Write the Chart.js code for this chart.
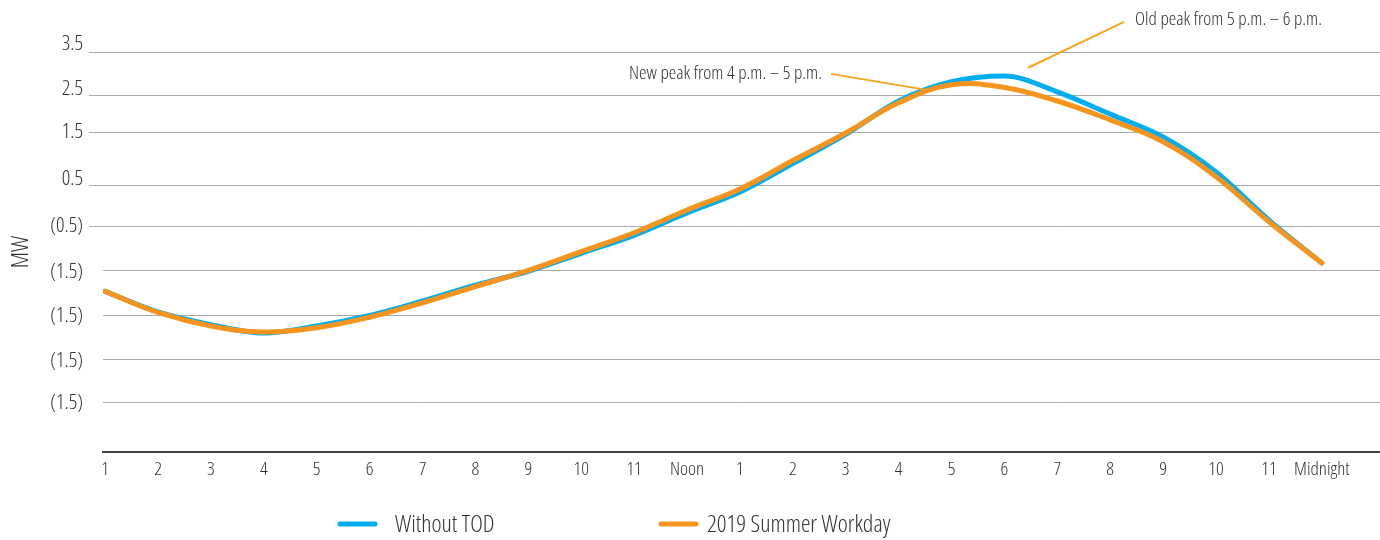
<!DOCTYPE html>
<html>
<head>
<meta charset="utf-8">
<script src="https://cdn.jsdelivr.net/npm/chart.js@4.4.1/dist/chart.umd.min.js"></script>
<style>
  html, body { margin: 0; padding: 0; background: #fff; }
  #chart { display: block; }
</style>
</head>
<body>
<canvas id="chart" width="1380" height="540"></canvas>
<script>
// hours of the day along the x axis
const hours = ['1', '2', '3', '4', '5', '6', '7', '8', '9', '10', '11', 'Noon',
  '1', '2', '3', '4', '5', '6', '7', '8', '9', '10', '11', 'Midnight'];

// load in MW
const withoutTod = [-1.97, -2.44, -2.73, -2.92, -2.76, -2.52, -2.19, -1.83, -1.51, -1.10, -0.69, -0.18,
  0.30, 0.95, 1.62, 2.38, 2.82, 2.95, 2.59, 2.08, 1.56, 0.76, -0.34, -1.32];
const summerWorkday = [-1.97, -2.45, -2.76, -2.90, -2.80, -2.56, -2.23, -1.86, -1.49, -1.06, -0.63, -0.11,
  0.37, 1.02, 1.65, 2.34, 2.75, 2.69, 2.38, 1.95, 1.45, 0.65, -0.38, -1.32];
const seriesNames = ['Without TOD', '2019 Summer Workday'];

// y axis: where the grid lines sit, where the labels sit, and the label text
const gridValues = [3.5, 2.51, 1.67, 0.45, -0.48, -1.49, -2.52, -3.52, -4.50];
const labelValues = [3.69, 2.65, 1.68, 0.60, -0.47, -1.52, -2.53, -3.56, -4.53];
const tickLabels = ['3.5', '2.5', '1.5', '0.5', '(0.5)', '(1.5)', '(1.5)', '(1.5)', '(1.5)'];

const notes = ['New peak from 4 p.m. \u2013 5 p.m.', 'Old peak from 5 p.m. \u2013 6 p.m.'];

const BLUE = '#00AEEF';
const ORANGE = '#F7941D';
const NOTE_LINE = '#F6A623';
const TEXT = '#333333';
const FAMILY = "'Open Sans', sans-serif";
const WEIGHT = '300 condensed';

// annotations + legend drawn on top of the chart
const extras = {
  id: 'extras',
  afterDraw(chart) {
    const { ctx, scales: { x, y } } = chart;
    const line = (x1, y1, x2, y2) => {
      ctx.beginPath();
      ctx.moveTo(x1, y1);
      ctx.lineTo(x2, y2);
      ctx.stroke();
    };
    ctx.save();

    // peak callouts
    ctx.strokeStyle = NOTE_LINE;
    ctx.lineWidth = 2;
    line(x.getPixelForValue(13.72), y.getPixelForValue(3.0), x.getPixelForValue(15.5), y.getPixelForValue(2.64));
    line(x.getPixelForValue(19.26), y.getPixelForValue(4.19), x.getPixelForValue(17.45), y.getPixelForValue(3.14));

    ctx.font = WEIGHT + ' 19px ' + FAMILY;
    ctx.fillStyle = TEXT;
    ctx.textBaseline = 'middle';
    ctx.textAlign = 'right';
    ctx.fillText(notes[0], x.getPixelForValue(13.55), y.getPixelForValue(3.0));
    ctx.textAlign = 'left';
    ctx.fillText(notes[1], x.getPixelForValue(19.47), y.getPixelForValue(4.235));

    // legend
    const colors = [BLUE, ORANGE];
    const items = [[340, 395], [661, 707]];
    ctx.lineWidth = 5;
    ctx.lineCap = 'round';
    ctx.font = WEIGHT + ' 24px ' + FAMILY;
    items.forEach(([lx, tx], i) => {
      ctx.strokeStyle = colors[i];
      line(lx, 524, lx + 35, 524);
      ctx.fillText(seriesNames[i], tx, 525);
    });
    ctx.restore();
  }
};

new Chart(document.getElementById('chart'), {
  type: 'line',
  data: {
    datasets: [
      {
        label: seriesNames[0],
        data: withoutTod.map((v, i) => ({ x: i, y: v })),
        borderColor: BLUE,
        borderWidth: 5,
        cubicInterpolationMode: 'monotone',
        order: 2
      },
      {
        label: seriesNames[1],
        data: summerWorkday.map((v, i) => ({ x: i, y: v })),
        borderColor: ORANGE,
        borderWidth: 5,
        order: 1
      }
    ]
  },
  options: {
    responsive: false,
    animation: false,
    devicePixelRatio: 1,
    layout: { padding: { top: 52, right: 0, bottom: 48, left: 0 } },
    elements: {
      point: { radius: 0 },
      line: { tension: 0.4, borderCapStyle: 'round', fill: false }
    },
    font: { family: FAMILY, weight: WEIGHT },
    plugins: {
      legend: { display: false },
      tooltip: { enabled: false }
    },
    scales: {
      x: {
        type: 'linear',
        min: -0.04,
        max: 24.1,
        afterBuildTicks: s => { s.ticks = hours.map((_, i) => ({ value: i })); },
        afterFit: s => { s.height = 40; },
        grid: { display: false, drawTicks: false },
        border: { display: true, color: '#444444', width: 2 },
        ticks: {
          autoSkip: false,
          maxRotation: 0,
          padding: 6,
          color: TEXT,
          font: { size: 19, family: FAMILY, weight: WEIGHT },
          callback: (v, i) => hours[i]
        }
      },
      yl: {
        type: 'linear',
        position: 'left',
        weight: 1,
        min: -5.64,
        max: 3.5,
        afterBuildTicks: s => { s.ticks = labelValues.map(v => ({ value: v })); },
        afterFit: s => { s.width = 103; },
        grid: { display: false, drawTicks: false },
        border: { display: false },
        title: {
          display: true,
          text: 'MW',
          color: TEXT,
          padding: { top: 7, bottom: 0 },
          font: { size: 24, family: FAMILY, weight: WEIGHT }
        },
        ticks: {
          padding: 20,
          color: TEXT,
          font: { size: 21, family: FAMILY, weight: WEIGHT },
          callback: (v, i) => tickLabels[i]
        }
      },
      y: {
        type: 'linear',
        position: 'left',
        weight: 0,
        min: -5.64,
        max: 3.5,
        afterBuildTicks: s => { s.ticks = gridValues.map(v => ({ value: v })); },
        afterFit: s => { s.width = 0; },
        grid: {
          color: '#AAAAAA',
          lineWidth: 1,
          tickLength: 14,
          tickColor: c => (c.index < 5 ? '#AAAAAA' : 'rgba(0,0,0,0)')
        },
        border: { display: false },
        ticks: { display: false }
      }
    }
  },
  plugins: [extras]
});
</script>
</body>
</html>
